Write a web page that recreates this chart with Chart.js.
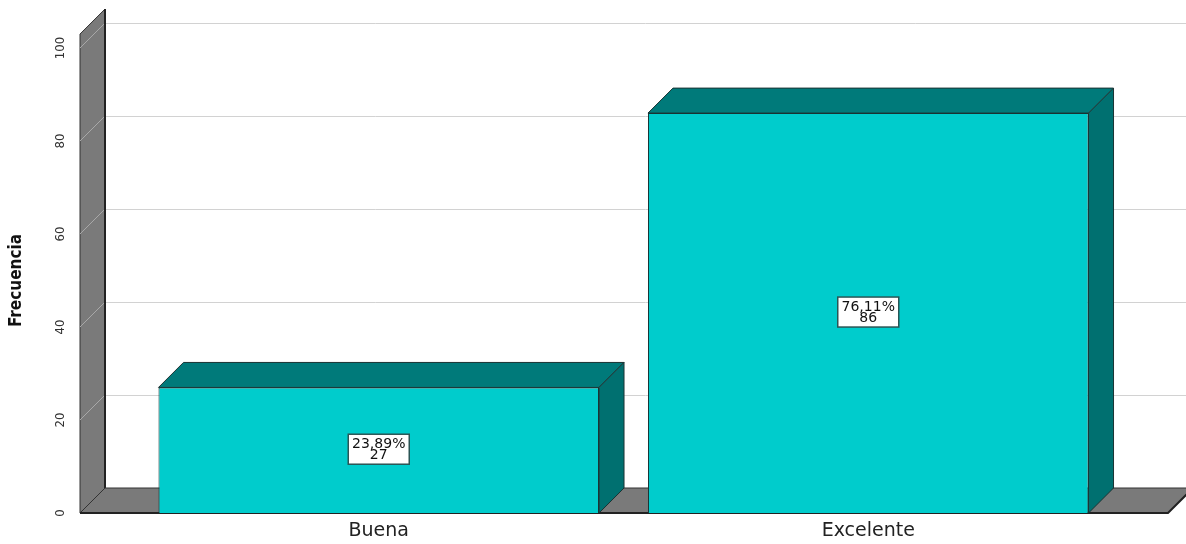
<!DOCTYPE html>
<html>
<head>
<meta charset="utf-8">
<script src="https://cdn.jsdelivr.net/npm/chart.js@4.4.1/dist/chart.umd.min.js"></script>
<style>
  body { margin: 0; background: #fff; }
  #wrap { width: 1186px; height: 544px; }
</style>
</head>
<body>
<div id="wrap"><canvas id="myChart"></canvas></div>
<script>
const categorias = ['Buena', 'Excelente'];
const frecuencias = [27, 86];
const ticksY = [0, 20, 40, 60, 80, 100];

const total = frecuencias.reduce((a, b) => a + b, 0);
const porcentajes = frecuencias.map(v => (v / total * 100).toFixed(2).replace('.', ',') + '%');

const PROF = 25; // profundidad del efecto 3D
const cyan = '#00cccc';
const tealOscuro = '#007a7a';
const gris = '#7a7a7a';
const borde = '#1a3333';

// pared, piso y cuadricula de fondo
const fondo3d = {
  id: 'fondo3d',
  beforeDatasetsDraw(chart) {
    const { ctx, chartArea, scales: { y } } = chart;
    const y0 = y.getPixelForValue(0);
    const yTop = y.getPixelForValue(103);
    const wl = chartArea.left - 54;
    const wr = wl + PROF;
    const fr = chart.width - 18;
    ctx.save();
    ctx.lineWidth = 1;
    ctx.strokeStyle = '#d2d2d2';
    ticksY.forEach(v => {
      const py = Math.round(y.getPixelForValue(v) - PROF) + 0.5;
      ctx.beginPath(); ctx.moveTo(wr, py); ctx.lineTo(chart.width, py); ctx.stroke();
    });
    // pared izquierda
    ctx.fillStyle = gris;
    ctx.beginPath();
    ctx.moveTo(wl, y0); ctx.lineTo(wl, yTop); ctx.lineTo(wr, yTop - PROF); ctx.lineTo(wr, y0 - PROF);
    ctx.closePath(); ctx.fill();
    ctx.strokeStyle = '#333'; ctx.stroke();
    // lineas en la pared
    ctx.strokeStyle = '#a8a8a8';
    ticksY.forEach(v => {
      const py = y.getPixelForValue(v);
      ctx.beginPath(); ctx.moveTo(wl, py); ctx.lineTo(wr, py - PROF); ctx.stroke();
    });
    ctx.strokeStyle = '#222'; ctx.lineWidth = 2;
    ctx.beginPath(); ctx.moveTo(wr, yTop - PROF); ctx.lineTo(wr, y0 - PROF); ctx.stroke();
    // piso
    ctx.lineWidth = 1;
    ctx.fillStyle = gris;
    ctx.beginPath();
    ctx.moveTo(wl, y0); ctx.lineTo(wr, y0 - PROF); ctx.lineTo(fr + PROF, y0 - PROF); ctx.lineTo(fr, y0);
    ctx.closePath(); ctx.fill();
    ctx.strokeStyle = '#333'; ctx.stroke();
    ctx.strokeStyle = '#222'; ctx.lineWidth = 2;
    ctx.beginPath(); ctx.moveTo(wl, y0); ctx.lineTo(fr, y0); ctx.lineTo(fr + PROF, y0 - PROF); ctx.stroke();
    ctx.restore();
  }
};

// caras superior y lateral de las barras + etiquetas
const barras3d = {
  id: 'barras3d',
  afterDatasetsDraw(chart) {
    const { ctx } = chart;
    const meta = chart.getDatasetMeta(0);
    ctx.save();
    meta.data.forEach((bar, i) => {
      const l = bar.x - bar.width / 2, r = bar.x + bar.width / 2;
      const t = bar.y, b = bar.base;
      ctx.lineWidth = 1;
      ctx.strokeStyle = borde;
      ctx.fillStyle = tealOscuro;
      ctx.beginPath();
      ctx.moveTo(l, t); ctx.lineTo(l + PROF, t - PROF); ctx.lineTo(r + PROF, t - PROF); ctx.lineTo(r, t);
      ctx.closePath(); ctx.fill(); ctx.stroke();
      ctx.fillStyle = '#007070';
      ctx.beginPath();
      ctx.moveTo(r, t); ctx.lineTo(r + PROF, t - PROF); ctx.lineTo(r + PROF, b - PROF); ctx.lineTo(r, b);
      ctx.closePath(); ctx.fill(); ctx.stroke();

      // etiqueta
      const cx = bar.x, cy = (t + b) / 2 - 1;
      const w = 61, h = 30;
      ctx.fillStyle = '#fff';
      ctx.fillRect(cx - w / 2, cy - h / 2, w, h);
      ctx.strokeStyle = '#2a5555';
      ctx.lineWidth = 1.5;
      ctx.strokeRect(cx - w / 2, cy - h / 2, w, h);
      ctx.fillStyle = '#111';
      ctx.font = '14px "DejaVu Sans", sans-serif';
      ctx.textAlign = 'center';
      ctx.textBaseline = 'middle';
      ctx.fillText(porcentajes[i], cx, cy - 5);
      ctx.fillText(String(frecuencias[i]), cx, cy + 6);
    });
    ctx.restore();
  }
};

const ctx = document.getElementById('myChart');
const myChart = new Chart(ctx, {
  type: 'bar',
  data: {
    labels: categorias,
    datasets: [{
      label: 'Frecuencia',
      data: frecuencias,
      backgroundColor: cyan,
      borderColor: borde,
      borderWidth: 1,
      categoryPercentage: 1,
      barPercentage: 0.9
    }]
  },
  options: {
    responsive: true,
    maintainAspectRatio: false,
    animation: false,
    layout: { padding: { top: 48, right: 73, left: 0, bottom: 0 } },
    plugins: { legend: { display: false }, tooltip: { enabled: false } },
    scales: {
      x: {
        grid: { display: false, drawTicks: false },
        border: { display: false },
        afterFit(scale) { scale.height = 31; },
        ticks: { color: '#222', padding: 7, font: { family: '"DejaVu Sans", sans-serif', size: 19 } }
      },
      y: {
        min: 0,
        max: 100,
        afterBuildTicks(scale) { scale.ticks = ticksY.map(v => ({ value: v })); },
        afterFit(scale) {
          scale.width = 134;
          scale.paddingTop = 0;
          scale.paddingBottom = 0;
        },
        grid: { display: false, drawTicks: false },
        border: { display: false },
        ticks: {
          color: '#333',
          minRotation: 90,
          maxRotation: 90,
          crossAlign: 'center',
          padding: 62,
          font: { family: '"DejaVu Sans Condensed", "DejaVu Sans", sans-serif', size: 13 }
        },
        title: {
          display: true,
          text: 'Frecuencia',
          color: '#111',
          padding: { top: 6, bottom: 0 },
          font: { family: '"DejaVu Sans Condensed", "DejaVu Sans", sans-serif', size: 17, weight: 'bold' }
        }
      }
    }
  },
  plugins: [fondo3d, barras3d]
});
</script>
</body>
</html>
